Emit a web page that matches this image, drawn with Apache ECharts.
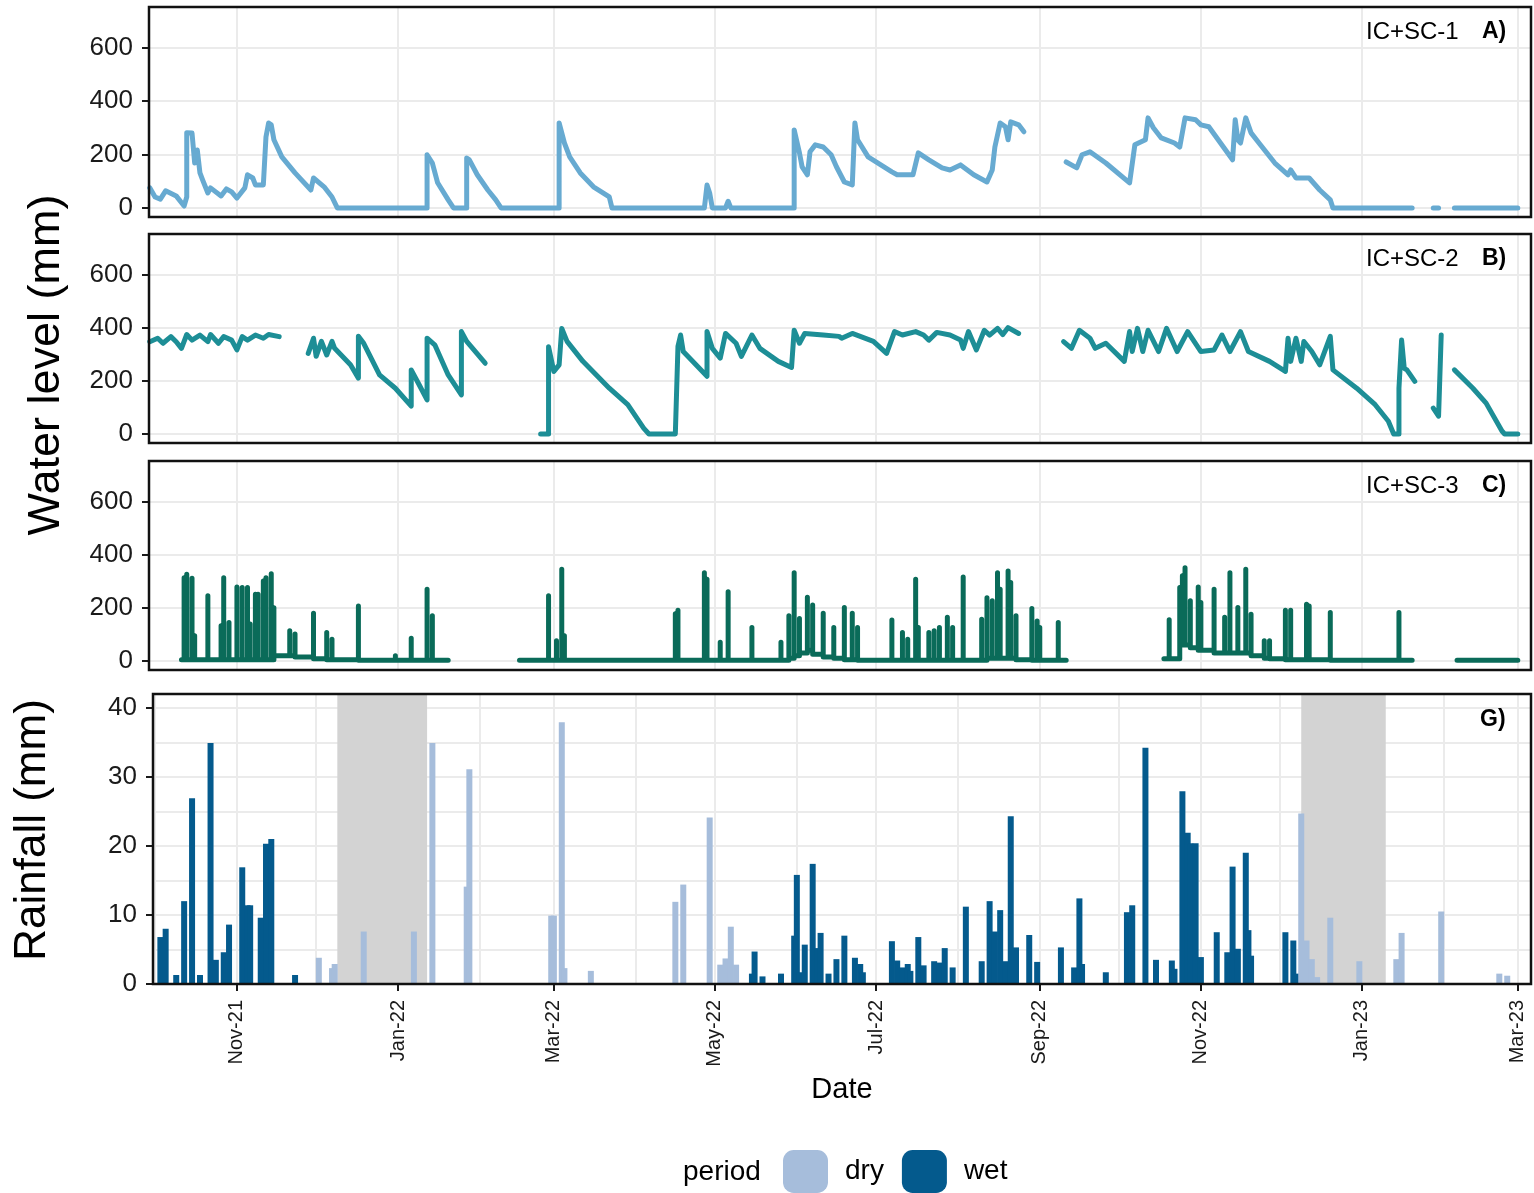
<!DOCTYPE html>
<html>
<head>
<meta charset="utf-8">
<title>Water level and rainfall</title>
<script src="https://cdn.jsdelivr.net/npm/echarts@6/dist/echarts.min.js"></script>
<style>
  html, body { margin: 0; padding: 0; background: #fff; }
  #chart { width: 1534px; height: 1193px; }
</style>
</head>
<body>
<div id="chart"></div>
<script>
// tick labels on the date axis (every two months) and the monthly minor grid
const dateTicks = ['2021-11-01', '2022-01-01', '2022-03-01', '2022-05-01', '2022-07-01',
  '2022-09-01', '2022-11-01', '2023-01-01', '2023-03-01'];
const monthTicks = ['2021-10-01', '2021-11-01', '2021-12-01', '2022-01-01', '2022-02-01', '2022-03-01',
  '2022-04-01', '2022-05-01', '2022-06-01', '2022-07-01', '2022-08-01', '2022-09-01', '2022-10-01',
  '2022-11-01', '2022-12-01', '2023-01-01', '2023-02-01', '2023-03-01'];
const levelTicks = [0, 200, 400, 600];
const rainTicks = [0, 10, 20, 30, 40];
const monthNames = ['Jan', 'Feb', 'Mar', 'Apr', 'May', 'Jun', 'Jul', 'Aug', 'Sep', 'Oct', 'Nov', 'Dec'];

// IC+SC-1 water level (mm), null = no record
const level1 = [
  ['2021-09-29', 75], ['2021-10-01', 41], ['2021-10-03', 33], ['2021-10-05', 64], ['2021-10-09', 45],
  ['2021-10-12', 7], ['2021-10-13', 41], ['2021-10-13', 281], ['2021-10-15', 280], ['2021-10-16', 168],
  ['2021-10-17', 217], ['2021-10-18', 131], ['2021-10-19', 105], ['2021-10-21', 56], ['2021-10-22', 75],
  ['2021-10-26', 45], ['2021-10-28', 71], ['2021-10-30', 60], ['2021-11-01', 37], ['2021-11-04', 75],
  ['2021-11-05', 124], ['2021-11-07', 112], ['2021-11-08', 86], ['2021-11-11', 86], ['2021-11-12', 266],
  ['2021-11-13', 318], ['2021-11-14', 311], ['2021-11-15', 255], ['2021-11-18', 191], ['2021-11-23', 131],
  ['2021-11-29', 67], ['2021-11-30', 112], ['2021-12-04', 79], ['2021-12-07', 41], ['2021-12-09', 0],
  ['2022-01-12', 0], ['2022-01-12', 199], ['2022-01-14', 168], ['2022-01-16', 94], ['2022-01-20', 30],
  ['2022-01-22', 0], ['2022-01-27', 0], ['2022-01-27', 187], ['2022-01-28', 180], ['2022-01-31', 124],
  ['2022-02-04', 67], ['2022-02-07', 30], ['2022-02-09', 0], ['2022-03-03', 0], ['2022-03-03', 318],
  ['2022-03-05', 243], ['2022-03-07', 191], ['2022-03-11', 131], ['2022-03-16', 79], ['2022-03-22', 41],
  ['2022-03-23', 0], ['2022-04-27', 0], ['2022-04-28', 86], ['2022-04-29', 56], ['2022-04-30', 0],
  ['2022-05-05', 0], ['2022-05-06', 25], ['2022-05-07', 0], ['2022-05-31', 0], ['2022-05-31', 292],
  ['2022-06-02', 206], ['2022-06-03', 154], ['2022-06-05', 124], ['2022-06-06', 210], ['2022-06-08', 236],
  ['2022-06-11', 228], ['2022-06-14', 199], ['2022-06-16', 154], ['2022-06-19', 97], ['2022-06-22', 86],
  ['2022-06-23', 318], ['2022-06-24', 255], ['2022-06-28', 191], ['2022-07-07', 135], ['2022-07-09', 124],
  ['2022-07-15', 124], ['2022-07-17', 206], ['2022-07-21', 180], ['2022-07-26', 150], ['2022-07-29', 142],
  ['2022-08-02', 161], ['2022-08-07', 124], ['2022-08-12', 97], ['2022-08-14', 142], ['2022-08-15', 228],
  ['2022-08-17', 318], ['2022-08-19', 304], ['2022-08-20', 255], ['2022-08-21', 322], ['2022-08-24', 311],
  ['2022-08-26', 285], ['2022-09-01', null],
  ['2022-09-11', 172], ['2022-09-15', 150], ['2022-09-17', 199], ['2022-09-20', 210], ['2022-09-26', 168],
  ['2022-10-05', 94], ['2022-10-07', 236], ['2022-10-11', 255], ['2022-10-12', 337], ['2022-10-14', 300],
  ['2022-10-17', 262], ['2022-10-22', 243], ['2022-10-24', 228], ['2022-10-26', 337], ['2022-10-30', 330],
  ['2022-11-01', 311], ['2022-11-04', 304], ['2022-11-13', 180], ['2022-11-14', 330], ['2022-11-15', 255],
  ['2022-11-16', 243], ['2022-11-18', 337], ['2022-11-20', 281], ['2022-11-23', 243], ['2022-11-29', 168],
  ['2022-12-04', 124], ['2022-12-05', 142], ['2022-12-07', 112], ['2022-12-12', 112], ['2022-12-16', 67],
  ['2022-12-20', 30], ['2022-12-21', 0], ['2023-01-20', 0], ['2023-01-24', null],
  ['2023-01-28', 0], ['2023-01-30', 0], ['2023-02-02', null],
  ['2023-02-05', 0], ['2023-03-01', 0]
];

// IC+SC-2 water level (mm)
const level2 = [
  ['2021-09-29', 347], ['2021-10-02', 360], ['2021-10-04', 341], ['2021-10-07', 366], ['2021-10-09', 347],
  ['2021-10-11', 322], ['2021-10-13', 374], ['2021-10-15', 353], ['2021-10-18', 372], ['2021-10-21', 347],
  ['2021-10-22', 374], ['2021-10-25', 341], ['2021-10-27', 366], ['2021-10-30', 353], ['2021-11-01', 316],
  ['2021-11-03', 366], ['2021-11-05', 353], ['2021-11-08', 372], ['2021-11-11', 360], ['2021-11-13', 374],
  ['2021-11-17', 366], ['2021-11-22', null],
  ['2021-11-28', 303], ['2021-11-30', 360], ['2021-12-01', 292], ['2021-12-03', 348], ['2021-12-05', 297],
  ['2021-12-07', 348], ['2021-12-08', 322], ['2021-12-14', 260], ['2021-12-17', 210], ['2021-12-17', 367],
  ['2021-12-19', 341], ['2021-12-25', 222], ['2021-12-31', 172], ['2022-01-06', 105], ['2022-01-06', 241],
  ['2022-01-09', 185], ['2022-01-12', 128], ['2022-01-12', 360], ['2022-01-15', 334], ['2022-01-20', 222],
  ['2022-01-25', 147], ['2022-01-25', 385], ['2022-01-27', 348], ['2022-02-03', 266], ['2022-02-10', null],
  ['2022-02-24', 0], ['2022-02-27', 0], ['2022-02-27', 328], ['2022-03-01', 235], ['2022-03-03', 260],
  ['2022-03-04', 397], ['2022-03-06', 348], ['2022-03-12', 273], ['2022-03-22', 172], ['2022-03-29', 110],
  ['2022-04-04', 22], ['2022-04-06', 0], ['2022-04-16', 0], ['2022-04-17', 330], ['2022-04-18', 372],
  ['2022-04-19', 310], ['2022-04-28', 217], ['2022-04-28', 385], ['2022-04-30', 322], ['2022-05-03', 285],
  ['2022-05-05', 378], ['2022-05-09', 341], ['2022-05-11', 292], ['2022-05-15', 372], ['2022-05-18', 322],
  ['2022-05-25', 273], ['2022-05-30', 250], ['2022-05-31', 390], ['2022-06-02', 341], ['2022-06-04', 378],
  ['2022-06-11', 372], ['2022-06-17', 367], ['2022-06-18', 360], ['2022-06-22', 378], ['2022-06-25', 367],
  ['2022-06-30', 348], ['2022-07-05', 303], ['2022-07-08', 385], ['2022-07-11', 372], ['2022-07-16', 385],
  ['2022-07-19', 372], ['2022-07-21', 353], ['2022-07-24', 382], ['2022-07-29', 372], ['2022-08-02', 353],
  ['2022-08-03', 322], ['2022-08-05', 385], ['2022-08-08', 316], ['2022-08-11', 390], ['2022-08-13', 372],
  ['2022-08-16', 397], ['2022-08-18', 374], ['2022-08-20', 400], ['2022-08-24', 378], ['2022-09-01', null],
  ['2022-09-10', 347], ['2022-09-13', 322], ['2022-09-16', 390], ['2022-09-20', 360], ['2022-09-22', 322],
  ['2022-09-26', 341], ['2022-10-03', 273], ['2022-10-05', 385], ['2022-10-06', 310], ['2022-10-08', 397],
  ['2022-10-10', 310], ['2022-10-12', 390], ['2022-10-16', 310], ['2022-10-19', 397], ['2022-10-23', 310],
  ['2022-10-27', 385], ['2022-11-01', 310], ['2022-11-06', 316], ['2022-11-09', 372], ['2022-11-12', 310],
  ['2022-11-16', 385], ['2022-11-19', 310], ['2022-11-27', 273], ['2022-12-03', 235], ['2022-12-04', 360],
  ['2022-12-05', 273], ['2022-12-07', 360], ['2022-12-09', 273], ['2022-12-10', 348], ['2022-12-13', 310],
  ['2022-12-16', 260], ['2022-12-20', 367], ['2022-12-21', 241], ['2022-12-30', 172], ['2023-01-06', 110],
  ['2023-01-11', 48], ['2023-01-13', 0], ['2023-01-15', 0], ['2023-01-15', 172], ['2023-01-16', 353],
  ['2023-01-17', 247], ['2023-01-18', 241], ['2023-01-21', 198], ['2023-01-25', null],
  ['2023-01-28', 97], ['2023-01-30', 67], ['2023-01-31', 372], ['2023-02-03', null],
  ['2023-02-05', 241], ['2023-02-12', 172], ['2023-02-17', 116], ['2023-02-23', 11], ['2023-02-24', 0],
  ['2023-03-01', 0]
];

// IC+SC-3 water level: recording periods [start, end, base level]
const level3Periods = [
  ['2021-10-11', '2022-01-20', 5],
  ['2022-02-16', '2022-09-11', 3],
  ['2022-10-18', '2023-01-20', 8],
  ['2023-02-06', '2023-03-01', 3]
];
// IC+SC-3 peaks: [date, peak level, level after the peak]
const level3Peaks = [
  ['2021-10-12', 313, 5], ['2021-10-13', 326, 5], ['2021-10-15', 311, 5], ['2021-10-16', 95, 5],
  ['2021-10-21', 245, 5], ['2021-10-26', 132, 5], ['2021-10-27', 313, 5], ['2021-10-29', 145, 5],
  ['2021-11-01', 278, 5], ['2021-11-03', 276, 5], ['2021-11-05', 276, 5], ['2021-11-06', 139, 5],
  ['2021-11-08', 251, 5], ['2021-11-09', 251, 5], ['2021-11-11', 301, 5], ['2021-11-12', 313, 5],
  ['2021-11-14', 328, 5], ['2021-11-15', 200, 20], ['2021-11-21', 114, 20], ['2021-11-23', 101, 15],
  ['2021-11-30', 179, 8], ['2021-12-05', 107, 5], ['2021-12-07', 82, 5], ['2021-12-17', 207, 3],
  ['2021-12-31', 20, 3], ['2022-01-06', 85, 3], ['2022-01-12', 270, 3], ['2022-01-14', 170, 3],
  ['2022-02-27', 245, 3], ['2022-03-02', 76, 3], ['2022-03-04', 345, 3], ['2022-03-05', 95, 3],
  ['2022-04-16', 178, 3], ['2022-04-17', 191, 3], ['2022-04-27', 332, 3], ['2022-04-28', 307, 3],
  ['2022-05-03', 70, 3], ['2022-05-06', 260, 3], ['2022-05-15', 126, 3], ['2022-05-26', 70, 3],
  ['2022-05-29', 170, 10], ['2022-05-31', 332, 20], ['2022-06-02', 160, 30], ['2022-06-05', 240, 40],
  ['2022-06-07', 210, 25], ['2022-06-11', 179, 15], ['2022-06-15', 126, 10], ['2022-06-19', 201, 5],
  ['2022-06-22', 179, 5], ['2022-06-24', 126, 3], ['2022-07-07', 154, 3], ['2022-07-11', 107, 3],
  ['2022-07-13', 82, 3], ['2022-07-16', 307, 3], ['2022-07-17', 126, 3], ['2022-07-21', 107, 3],
  ['2022-07-23', 114, 3], ['2022-07-25', 126, 3], ['2022-07-28', 164, 3], ['2022-07-30', 126, 3],
  ['2022-08-03', 316, 3], ['2022-08-10', 157, 3], ['2022-08-12', 238, 10], ['2022-08-14', 226, 10],
  ['2022-08-16', 332, 10], ['2022-08-17', 270, 10], ['2022-08-20', 338, 10], ['2022-08-21', 295, 10],
  ['2022-08-23', 170, 5], ['2022-08-29', 197, 3], ['2022-08-31', 150, 3], ['2022-09-01', 126, 3],
  ['2022-09-08', 145, 3],
  ['2022-10-20', 155, 8], ['2022-10-24', 276, 60], ['2022-10-25', 320, 60], ['2022-10-26', 351, 60],
  ['2022-10-28', 226, 50], ['2022-10-31', 278, 40], ['2022-11-01', 220, 40], ['2022-11-06', 270, 30],
  ['2022-11-10', 164, 30], ['2022-11-12', 332, 30], ['2022-11-15', 201, 30], ['2022-11-18', 345, 30],
  ['2022-11-20', 176, 20], ['2022-11-25', 76, 10], ['2022-11-27', 76, 8], ['2022-12-03', 191, 5],
  ['2022-12-05', 191, 5], ['2022-12-11', 213, 5], ['2022-12-12', 207, 5], ['2022-12-20', 182, 3],
  ['2023-01-15', 182, 3]
];

// daily rainfall (mm) by period
const rainWet = [
  ['2021-10-03', 6.8], ['2021-10-05', 8.0], ['2021-10-09', 1.3], ['2021-10-12', 12.0], ['2021-10-15', 26.9],
  ['2021-10-18', 1.3], ['2021-10-22', 34.9], ['2021-10-24', 3.5], ['2021-10-27', 4.6], ['2021-10-29', 8.6],
  ['2021-11-03', 16.9], ['2021-11-05', 11.4], ['2021-11-06', 11.4], ['2021-11-10', 9.6], ['2021-11-12', 20.3],
  ['2021-11-14', 21.0], ['2021-11-23', 1.3],
  ['2022-05-15', 1.5], ['2022-05-16', 4.7], ['2022-05-19', 1.1], ['2022-05-26', 1.5], ['2022-05-31', 7.0],
  ['2022-06-01', 15.8], ['2022-06-02', 1.7], ['2022-06-04', 5.7], ['2022-06-07', 17.4], ['2022-06-09', 5.2],
  ['2022-06-10', 7.4], ['2022-06-13', 1.5], ['2022-06-16', 3.6], ['2022-06-19', 7.0], ['2022-06-23', 3.8],
  ['2022-06-25', 2.9], ['2022-06-26', 1.7], ['2022-07-07', 6.2], ['2022-07-09', 3.4], ['2022-07-11', 2.4],
  ['2022-07-13', 2.9], ['2022-07-14', 1.9], ['2022-07-17', 6.8], ['2022-07-19', 2.7], ['2022-07-23', 3.3],
  ['2022-07-25', 3.1], ['2022-07-27', 5.2], ['2022-07-30', 2.4], ['2022-08-04', 11.2], ['2022-08-10', 3.3],
  ['2022-08-13', 12.0], ['2022-08-15', 7.6], ['2022-08-17', 10.7], ['2022-08-19', 3.3], ['2022-08-21', 24.3],
  ['2022-08-23', 5.3], ['2022-08-28', 7.1], ['2022-08-31', 3.2], ['2022-09-09', 5.3], ['2022-09-14', 2.4],
  ['2022-09-16', 12.4], ['2022-09-17', 2.9], ['2022-09-26', 1.7], ['2022-10-04', 10.4], ['2022-10-06', 11.4],
  ['2022-10-11', 34.2], ['2022-10-15', 3.5], ['2022-10-21', 3.4], ['2022-10-22', 2.2], ['2022-10-25', 27.9],
  ['2022-10-27', 21.9], ['2022-10-28', 20.4], ['2022-10-30', 20.4], ['2022-11-01', 3.9], ['2022-11-07', 7.5],
  ['2022-11-11', 4.6], ['2022-11-13', 17.0], ['2022-11-15', 5.1], ['2022-11-18', 19.0], ['2022-11-19', 7.8],
  ['2022-11-20', 4.1], ['2022-12-03', 7.5], ['2022-12-06', 6.3], ['2022-12-07', 1.5]
];
const rainDry = [
  ['2021-12-02', 3.8], ['2021-12-07', 2.3], ['2021-12-08', 2.9], ['2021-12-19', 7.6], ['2022-01-07', 7.6],
  ['2022-01-14', 34.9], ['2022-01-27', 14.1], ['2022-01-28', 31.1], ['2022-02-28', 9.9], ['2022-03-01', 9.9],
  ['2022-03-04', 37.9], ['2022-03-05', 2.3], ['2022-03-15', 1.9], ['2022-04-16', 11.9], ['2022-04-19', 14.4],
  ['2022-04-29', 24.1], ['2022-05-03', 2.8], ['2022-05-05', 3.7], ['2022-05-07', 8.3], ['2022-05-09', 2.8],
  ['2022-12-09', 24.7], ['2022-12-11', 6.3], ['2022-12-13', 3.6], ['2022-12-15', 1.0], ['2022-12-20', 9.6],
  ['2022-12-31', 3.3], ['2023-01-14', 3.6], ['2023-01-16', 7.4], ['2023-01-31', 10.5], ['2023-02-22', 1.5],
  ['2023-02-25', 1.2]
];
// shaded holiday periods
const shadedPeriods = [['2021-12-09', '2022-01-12'], ['2022-12-09', '2023-01-10']];

const FONT = '"Liberation Sans", Arial, sans-serif';
const GRID_COLOR = '#ebebeb';

// 'YYYY-MM-DD' or 'YYYY-MM-DDTHH:mm' -> local timestamp
function ts(s) {
  const parts = s.split('T');
  const ymd = parts[0].split('-').map(Number);
  const hm = parts[1] ? parts[1].split(':').map(Number) : [0, 0];
  return new Date(ymd[0], ymd[1] - 1, ymd[2], hm[0], hm[1]).getTime();
}
function toPoints(rows) {
  return rows.map(r => [ts(r[0]), r[1] === null ? '-' : r[1]]);
}

// expand IC+SC-3 peaks into a line path
function buildLevel3() {
  const out = [];
  level3Periods.forEach(([start, end, base]) => {
    out.push([start, base]);
    let last = base;
    level3Peaks.forEach(([d, peak, after]) => {
      if (d >= start && d <= end) {
        out.push([d, last], [d, peak], [d, after]);
        last = after;
      }
    });
    out.push([end, last], [end, null]);
  });
  return out;
}

function dateLabel(v) {
  const d = new Date(v);
  return monthNames[d.getMonth()] + '-' + String(d.getFullYear()).slice(2);
}

const X_MIN_LEVEL = ts('2021-09-28T17:00');
const X_MIN_RAIN = ts('2021-09-30T05:00');
const X_MAX = ts('2023-03-06');
const dateTickValues = dateTicks.map(ts);
const monthTickValues = monthTicks.map(ts);

const chart = echarts.init(document.getElementById('chart'));

const grids = [
  { left: 149, top: 7, width: 1382, height: 210 },
  { left: 149, top: 234, width: 1382, height: 209 },
  { left: 149, top: 461, width: 1382, height: 209 },
  { left: 153, top: 694, width: 1378, height: 290 }
];

function levelX(i) {
  return {
    type: 'value', gridIndex: i, min: X_MIN_LEVEL, max: X_MAX,
    axisLine: { show: false },
    axisTick: { show: false, customValues: dateTickValues },
    axisLabel: { show: false, customValues: dateTickValues },
    splitLine: { show: true, lineStyle: { color: GRID_COLOR, width: 2 } }
  };
}
function levelY(i) {
  return {
    type: 'value', gridIndex: i, min: -34, max: 752,
    axisLine: { show: false },
    axisTick: { show: true, customValues: levelTicks, length: 7, lineStyle: { color: '#1a1a1a', width: 2 } },
    axisLabel: { customValues: levelTicks, fontSize: 26, color: '#1a1a1a', fontFamily: FONT, margin: 16 },
    splitLine: { show: true, lineStyle: { color: GRID_COLOR, width: 2 } }
  };
}
function levelLine(i, rows, color) {
  return {
    type: 'line', xAxisIndex: i, yAxisIndex: i, data: toPoints(rows),
    showSymbol: false, symbol: 'none', connectNulls: false, z: 3,
    lineStyle: { width: 5, color: color, cap: 'round', join: 'round' },
    itemStyle: { color: color }
  };
}

const frames = grids.map(g => ({
  type: 'rect', z: 100, silent: true,
  shape: { x: g.left, y: g.top, width: g.width, height: g.height },
  style: { fill: null, stroke: '#111', lineWidth: 2.5 }
}));

function text(x, y, str, size, opts) {
  return Object.assign({
    type: 'text', x: x, y: y, z: 110, silent: true,
    style: { text: str, font: size + 'px ' + FONT, fill: '#000',
      align: 'left', verticalAlign: 'middle', textAlign: 'left', textVerticalAlign: 'middle' }
  }, opts || {});
}
function boldText(x, y, str, size) {
  const t = text(x, y, str, size);
  t.style.font = 'bold ' + size + 'px ' + FONT;
  return t;
}
function centerText(x, y, str, size, rotation) {
  const t = text(x, y, str, size, { rotation: rotation || 0 });
  t.style.align = 'center'; t.style.textAlign = 'center';
  return t;
}

chart.setOption({
  animation: false,
  textStyle: { fontFamily: FONT },
  grid: grids,
  xAxis: [
    levelX(0), levelX(1), levelX(2),
    {
      type: 'value', gridIndex: 3, min: X_MIN_RAIN, max: X_MAX,
      position: 'bottom',
      axisLine: { show: false },
      axisTick: { show: true, customValues: dateTickValues, length: 7, lineStyle: { color: '#1a1a1a', width: 2 } },
      axisLabel: { customValues: dateTickValues, rotate: 90, fontSize: 20, color: '#1a1a1a', margin: 16,
        fontFamily: FONT, formatter: dateLabel },
      splitLine: { show: false },
      name: 'Date', nameLocation: 'middle', nameGap: 91,
      nameTextStyle: { fontSize: 29, color: '#000', fontFamily: FONT }
    },
    {
      type: 'value', gridIndex: 3, min: X_MIN_RAIN, max: X_MAX,
      position: 'top',
      axisLine: { show: false },
      axisTick: { show: false, customValues: monthTickValues },
      axisLabel: { show: false, customValues: monthTickValues },
      splitLine: { show: true, lineStyle: { color: GRID_COLOR, width: 2 } }
    }
  ],
  yAxis: [
    levelY(0), levelY(1), levelY(2),
    {
      type: 'value', gridIndex: 3, min: 0, max: 42, interval: 5, position: 'left',
      axisLine: { show: false }, axisTick: { show: false }, axisLabel: { show: false },
      splitLine: { show: true, lineStyle: { color: GRID_COLOR, width: 2 } }
    },
    {
      type: 'value', gridIndex: 3, min: 0, max: 42, position: 'left',
      axisLine: { show: false },
      axisTick: { show: true, customValues: rainTicks, length: 7, lineStyle: { color: '#1a1a1a', width: 2 } },
      axisLabel: { customValues: rainTicks, fontSize: 26, color: '#1a1a1a', fontFamily: FONT, margin: 16 },
      splitLine: { show: false }
    }
  ],
  legend: {
    data: ['dry', 'wet'],
    left: 778, top: 1145,
    itemWidth: 45, itemHeight: 43, itemGap: 18,
    icon: 'roundRect',
    selectedMode: false,
    textStyle: { fontSize: 28, color: '#000', fontFamily: FONT, padding: [0, 0, 0, 12] }
  },
  series: [
    levelLine(0, level1, '#67aad1'),
    levelLine(1, level2, '#1d8e96'),
    levelLine(2, buildLevel3(), '#0a6b59'),
    {
      name: 'wet', type: 'bar', xAxisIndex: 3, yAxisIndex: 3, data: toPoints(rainWet),
      barWidth: 6, barGap: '-100%', z: 2,
      itemStyle: { color: '#045a8d' },
      markArea: {
        silent: true,
        itemStyle: { color: '#d3d3d3', opacity: 1 },
        data: shadedPeriods.map(p => [{ xAxis: ts(p[0]) }, { xAxis: ts(p[1]) }])
      }
    },
    {
      name: 'dry', type: 'bar', xAxisIndex: 3, yAxisIndex: 3, data: toPoints(rainDry),
      barWidth: 6, barGap: '-100%', z: 3,
      itemStyle: { color: '#a6bddb' }
    }
  ],
  graphic: frames.concat([
    text(1366, 32, 'IC+SC-1', 24), boldText(1482, 32, 'A)', 23),
    text(1366, 259, 'IC+SC-2', 24), boldText(1482, 259, 'B)', 23),
    text(1366, 486, 'IC+SC-3', 24), boldText(1482, 486, 'C)', 23),
    boldText(1480, 720, 'G)', 23),
    centerText(47, 365, 'Water level (mm)', 45, Math.PI / 2),
    centerText(33, 830, 'Rainfall (mm)', 44, Math.PI / 2),
    text(683, 1172, 'period', 28)
  ])
});
</script>
</body>
</html>
